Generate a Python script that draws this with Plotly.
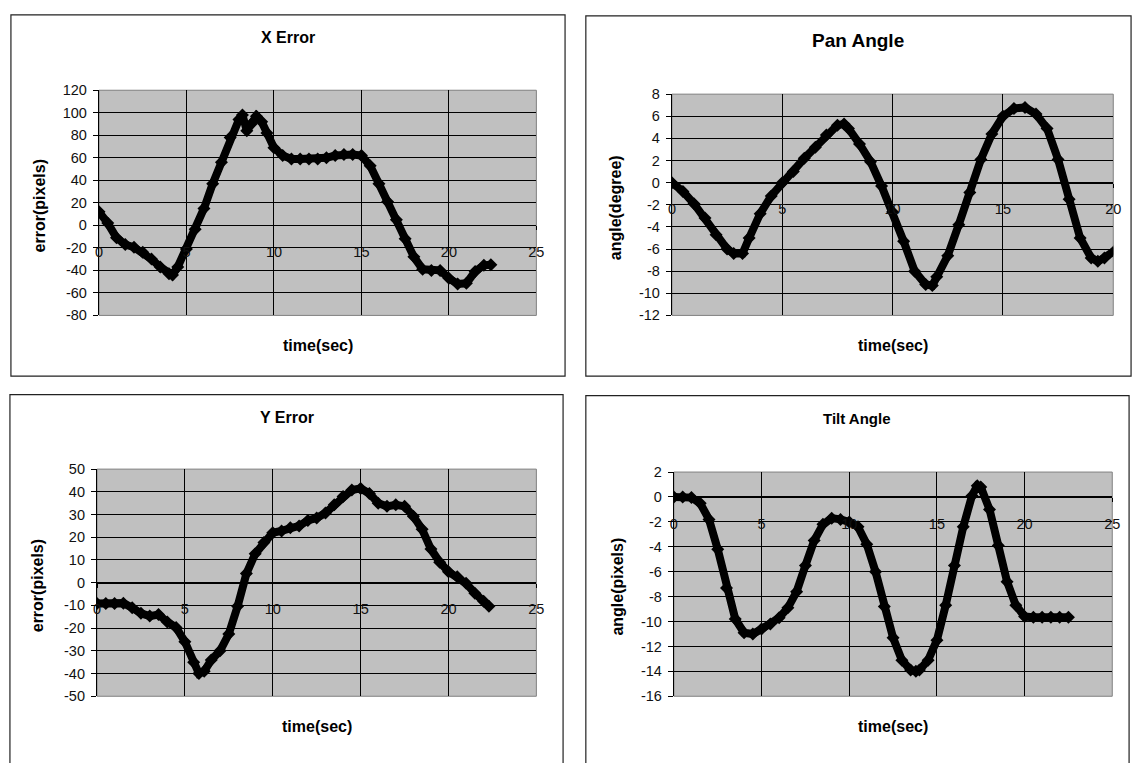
import plotly.graph_objects as go

# ---------------- data ----------------
x_err_time = [0, 0.5, 1, 1.5, 2, 2.5, 3, 3.5, 4, 4.2, 4.5, 5, 5.5, 6, 6.5, 7, 7.5, 8, 8.2, 8.45,
              8.7, 9, 9.3, 9.6, 10, 10.5, 11, 11.5, 12, 12.5, 13, 13.5, 14, 14.5, 15, 15.5, 16,
              16.5, 17, 17.5, 18, 18.5, 19, 19.5, 20, 20.5, 21, 21.5, 22, 22.4]
x_err_vals = [12, 2, -11, -17, -19.5, -24, -30, -37, -43, -44, -37, -21, -3.5, 15, 37, 56, 78, 94,
              98, 84, 90, 97, 92, 82, 69, 62, 59, 59, 59, 59, 60, 62, 63, 63, 62, 53, 37, 21, 5,
              -12, -28, -39, -40, -40, -47, -52, -51.5, -41, -35.5, -35]

pan_time = [0, 0.5, 1, 1.5, 2, 2.5, 2.8, 3.2, 3.5, 4, 4.5, 5, 5.5, 6, 6.5, 7, 7.5, 7.8, 8, 8.5, 9,
            9.5, 10, 10.5, 11, 11.5, 11.8, 12, 12.5, 13, 13.5, 14, 14.5, 15, 15.5, 16, 16.5, 17,
            17.5, 18, 18.5, 19, 19.3, 19.6, 20.1]
pan_vals = [0, -0.8, -1.9, -3.2, -4.7, -6.0, -6.4, -6.4, -5.0, -2.8, -1.2, 0, 1.0, 2.2, 3.2, 4.3,
            5.2, 5.3, 4.9, 3.5, 1.9, -0.3, -2.65, -5.3, -8.0, -9.2, -9.3, -8.5, -6.6, -3.8, -0.9,
            2.1, 4.4, 6.0, 6.7, 6.8, 6.2, 4.9, 2.1, -1.5, -5.0, -6.8, -7.1, -6.8, -6.1]

y_err_time = [0, 0.5, 1, 1.5, 2, 2.5, 3, 3.5, 4, 4.5, 5, 5.5, 5.8, 6.1, 6.5, 7, 7.5, 8, 8.5, 9,
              9.5, 10, 10.5, 11, 11.5, 12, 12.5, 13, 13.5, 14, 14.5, 15, 15.5, 16, 16.5, 17,
              17.5, 18, 18.5, 19, 19.5, 20, 20.5, 21, 21.5, 22, 22.3]
y_err_vals = [-9.2, -9.2, -9.2, -9, -11, -13.5, -14.7, -14, -17.3, -19.7, -26, -35, -40, -39,
              -34, -30, -22.6, -10.4, 4, 12.7, 17.7, 22, 22.8, 24.2, 25, 27.4, 28.5, 30.7, 34.3,
              37.9, 40.8, 41.5, 39.3, 35, 33.6, 34.3, 33.6, 29.3, 23.5, 14.8, 9, 4.8, 2.6, -0.3,
              -4.6, -8.2, -10.4]

tilt_time = [0, 0.5, 1, 1.5, 2, 2.5, 3, 3.5, 4, 4.5, 5, 5.5, 6, 6.5, 7, 7.5, 8, 8.5, 9, 9.5, 10,
             10.5, 11, 11.5, 12, 12.5, 13, 13.5, 13.8, 14, 14.5, 15, 15.5, 16, 16.5, 17, 17.3,
             17.5, 18, 18.5, 19, 19.5, 20, 20.5, 21, 21.5, 22, 22.5]
tilt_vals = [0, 0, -0.05, -0.5, -1.8, -4.2, -7.3, -9.8, -10.9, -11, -10.6, -10.2, -9.7, -8.9,
             -7.6, -5.5, -3.5, -2.2, -1.7, -1.8, -2.0, -2.4, -3.8, -6.0, -8.8, -11.3, -13.1,
             -13.9, -14.0, -13.9, -13.1, -11.5, -8.7, -5.5, -2.4, 0.1, 0.9, 0.8, -1.0, -3.9,
             -6.8, -8.7, -9.6, -9.65, -9.65, -9.65, -9.65, -9.65]

titles = ["X Error", "Pan Angle", "Y Error", "Tilt Angle"]
y_titles = ["error(pixels)", "angle(degree)", "error(pixels)", "angle(pixels)"]
x_title = "time(sec)"

x_ticks_25 = [0, 5, 10, 15, 20, 25]
x_ticks_20 = [0, 5, 10, 15, 20]
y_ticks_x = [120, 100, 80, 60, 40, 20, 0, -20, -40, -60, -80]
y_ticks_pan = [8, 6, 4, 2, 0, -2, -4, -6, -8, -10, -12]
y_ticks_y = [50, 40, 30, 20, 10, 0, -10, -20, -30, -40, -50]
y_ticks_tilt = [2, 0, -2, -4, -6, -8, -10, -12, -14, -16]

# ---------------- layout geometry (pixels) ----------------
W, H = 1145, 763
FONT = "Liberation Sans, Arial, sans-serif"

panels = [
    dict(t=x_err_time, v=x_err_vals, xt=x_ticks_25, yt=y_ticks_x,
         plot=(96, 538, 84, 314), box=(7, 567, 7, 376), ty=30, tsize=16),
    dict(t=pan_time, v=pan_vals, xt=x_ticks_20, yt=y_ticks_pan,
         plot=(675, 1121, 88, 314), box=(588, 1139, 8, 376), ty=33, tsize=19),
    dict(t=y_err_time, v=y_err_vals, xt=x_ticks_25, yt=y_ticks_y,
         plot=(94, 538, 471, 703), box=(6, 565, 395, 775), ty=418, tsize=16),
    dict(t=tilt_time, v=tilt_vals, xt=x_ticks_25, yt=y_ticks_tilt,
         plot=(677, 1120, 474, 703), box=(588, 1137, 396, 775), ty=419, tsize=15),
]


def px(x):
    return x / W


def py(y):
    return 1 - y / H


fig = go.Figure()
shapes = []
annotations = []

for i, p in enumerate(panels, start=1):
    sfx = "" if i == 1 else str(i)
    x0, x1, yt, yb = p["plot"]
    ymin, ymax = min(p["yt"]), max(p["yt"])
    xmin, xmax = min(p["xt"]), max(p["xt"])
    ydom = [py(yb), py(yt)]
    xdom = [px(x0), px(x1)]
    # x axis crosses at y = 0 (Excel style)
    cross = ydom[0] + (0 - ymin) / (ymax - ymin) * (ydom[1] - ydom[0])

    fig.add_trace(go.Scatter(
        x=p["t"], y=p["v"], mode="lines+markers",
        line=dict(color="black", width=8),
        marker=dict(symbol="diamond", size=10, color="black"),
        xaxis="x" + sfx, yaxis="y" + sfx, showlegend=False, hoverinfo="skip"))

    fig.layout["xaxis" + sfx] = dict(
        domain=xdom, range=[xmin, xmax], anchor="free", position=cross,
        tickvals=p["xt"], ticktext=[str(v) for v in p["xt"]],
        showgrid=True, gridcolor="black", gridwidth=1.3, zeroline=False,
        showline=True, linecolor="black", linewidth=1.3,
        ticks="outside", ticklen=4, tickcolor="black", ticklabelstandoff=9,
        tickfont=dict(family=FONT, size=14.5, color="#111"), fixedrange=True)
    fig.layout["yaxis" + sfx] = dict(
        domain=ydom, range=[ymin, ymax], anchor="x" + sfx,
        tickvals=p["yt"], ticktext=[str(v) for v in p["yt"]],
        showgrid=True, gridcolor="black", gridwidth=1.3, zeroline=False,
        showline=True, linecolor="black", linewidth=1.3,
        ticks="outside", ticklen=5, tickcolor="black", ticklabelstandoff=3,
        tickfont=dict(family=FONT, size=14.5, color="#111"), fixedrange=True)

    # plot-area border (grey, Excel style)
    shapes.append(dict(type="rect", xref="x" + sfx + " domain", yref="y" + sfx + " domain",
                       x0=0, x1=1, y0=0, y1=1, line=dict(color="#808080", width=1),
                       layer="below"))
    # chart box
    bx0, bx1, byt, byb = p["box"]
    shapes.append(dict(type="rect", xref="paper", yref="paper",
                       x0=px(bx0), x1=px(bx1), y0=py(byb), y1=py(byt),
                       line=dict(color="#222", width=1.2)))

    # chart title
    annotations.append(dict(text="<b>" + titles[i - 1] + "</b>", xref="paper", yref="paper",
                            x=px((bx0 + bx1) / 2), y=py(p["ty"]), showarrow=False,
                            xanchor="center", yanchor="middle",
                            font=dict(family=FONT, size=p["tsize"], color="black")))
    # x-axis title
    annotations.append(dict(text="<b>" + x_title + "</b>", xref="paper", yref="paper",
                            x=px((x0 + x1) / 2), y=py(yb + 31), showarrow=False,
                            xanchor="center", yanchor="middle",
                            font=dict(family=FONT, size=16, color="black")))
    # y-axis title
    annotations.append(dict(text="<b>" + y_titles[i - 1] + "</b>", xref="paper", yref="paper",
                            x=px(x0 - 60 if i in (1, 3) else x0 - 57), y=py((yt + yb) / 2 + 3),
                            showarrow=False, textangle=-90,
                            xanchor="center", yanchor="middle",
                            font=dict(family=FONT, size=16, color="black")))

fig.update_layout(
    width=W, height=H, margin=dict(l=0, r=0, t=0, b=0),
    paper_bgcolor="white", plot_bgcolor="#c0c0c0",
    shapes=shapes, annotations=annotations, showlegend=False)

fig.write_html("out.html", config={"displayModeBar": False})
